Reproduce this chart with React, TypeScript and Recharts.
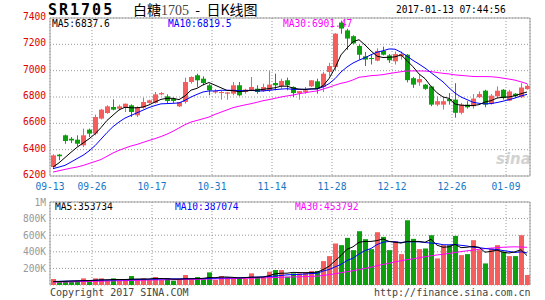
import React from 'react'
import {
  ComposedChart,
  Bar,
  Line,
  XAxis,
  YAxis,
  CartesianGrid,
  ReferenceLine,
  Cell,
} from 'recharts'

// 日期刻度
const tickDates = ['09-13', '09-26', '10-17', '10-31', '11-14', '11-28', '12-12', '12-26', '01-09']
const tickIndex = [0, 7, 17, 27, 37, 47, 57, 67, 76]
const priceTicks = [6200, 6400, 6600, 6800, 7000, 7200, 7400]
const volTicks = [200, 400, 600, 800, 1000]

// K线 (开/收/高/低)
const opens = [
  6268, 6362, 6509, 6483, 6476, 6433, 6552, 6522, 6636, 6678,
  6724, 6711, 6719, 6737, 6661, 6719, 6755, 6755, 6820, 6805,
  6787, 6729, 6762, 6914, 6965, 6939, 6889, 6835, 6830, 6825,
  6825, 6889, 6838, 6851, 6863, 6845, 6851, 6906, 6884, 6927,
  6876, 6830, 6838, 6881, 6919, 6876, 6990, 7027, 7365, 7306,
  7262, 7188, 7109, 7096, 7076, 7150, 7116, 7071, 7109, 7121,
  6943, 6911, 6894, 6880, 6742, 6742, 6785, 6780, 6680, 6742,
  6730, 6798, 6848, 6748, 6805, 6855, 6772, 6825, 6798, 6860,
]
const closes = [
  6357, 6350, 6466, 6470, 6445, 6509, 6522, 6648, 6704, 6729,
  6704, 6729, 6749, 6686, 6724, 6762, 6775, 6820, 6830, 6770,
  6770, 6762, 6914, 6952, 6927, 6906, 6851, 6845, 6838, 6835,
  6889, 6813, 6856, 6876, 6838, 6876, 6894, 6889, 6922, 6889,
  6830, 6845, 6851, 6927, 6863, 6977, 7035, 7281, 7320, 7244,
  7207, 7121, 7084, 7089, 7150, 7121, 7079, 7126, 7126, 6928,
  6894, 6936, 6862, 6742, 6768, 6768, 6768, 6680, 6742, 6722,
  6788, 6822, 6742, 6810, 6848, 6792, 6842, 6805, 6872, 6885,
]
const highs = [
  6365, 6368, 6515, 6496, 6509, 6560, 6560, 6666, 6710, 6737,
  6782, 6742, 6750, 6744, 6729, 6795, 6780, 6838, 6838, 6820,
  6795, 6762, 6947, 6957, 6977, 6957, 6901, 6860, 6845, 6838,
  6914, 6914, 6863, 6952, 6889, 6901, 6997, 6977, 6939, 6947,
  6881, 6845, 6876, 6927, 6939, 6990, 7060, 7285, 7380, 7318,
  7269, 7200, 7141, 7126, 7170, 7183, 7126, 7146, 7146, 7126,
  6953, 6968, 6899, 6885, 6805, 6798, 6830, 6905, 6755, 6768,
  6822, 6842, 6855, 6822, 6880, 6860, 6855, 6830, 6905, 6898,
]
const lows = [
  6255, 6320, 6445, 6450, 6425, 6420, 6496, 6509, 6630, 6673,
  6699, 6699, 6686, 6648, 6648, 6711, 6750, 6750, 6813, 6754,
  6755, 6724, 6750, 6901, 6876, 6889, 6813, 6825, 6780, 6780,
  6813, 6805, 6825, 6845, 6825, 6838, 6838, 6851, 6863, 6851,
  6800, 6780, 6825, 6876, 6825, 6838, 6960, 7000, 7280, 7158,
  7200, 7084, 7035, 7047, 7071, 7116, 7059, 7047, 7084, 6911,
  6869, 6885, 6854, 6730, 6730, 6705, 6742, 6643, 6668, 6712,
  6712, 6792, 6722, 6742, 6792, 6780, 6768, 6792, 6792, 6855,
]

// 均线
const ma5 = [
  6268, 6300, 6340, 6380, 6418, 6450, 6482, 6520, 6568, 6622,
  6662, 6702, 6722, 6718, 6718, 6724, 6740, 6762, 6782, 6790,
  6790, 6780, 6808, 6852, 6866, 6892, 6910, 6890, 6870, 6850,
  6848, 6840, 6845, 6850, 6852, 6858, 6864, 6870, 6882, 6882,
  6868, 6860, 6858, 6862, 6862, 6885, 6940, 7020, 7120, 7172,
  7220, 7235, 7195, 7150, 7110, 7100, 7102, 7105, 7120, 7076,
  7030, 6975, 6940, 6880, 6832, 6800, 6790, 6746, 6738, 6735,
  6735, 6742, 6762, 6772, 6792, 6798, 6800, 6810, 6825, 6838,
]
const ma10 = [
  6256, 6268, 6281, 6306, 6332, 6357, 6390, 6430, 6480, 6530,
  6575, 6610, 6640, 6660, 6680, 6700, 6720, 6735, 6748, 6750,
  6752, 6755, 6775, 6800, 6820, 6838, 6846, 6846, 6851, 6851,
  6851, 6848, 6848, 6851, 6846, 6846, 6851, 6856, 6860, 6863,
  6858, 6858, 6858, 6860, 6862, 6876, 6901, 6939, 6990, 7028,
  7058, 7080, 7098, 7121, 7140, 7151, 7165, 7163, 7140, 7110,
  7078, 7050, 7020, 6985, 6950, 6915, 6870, 6830, 6800, 6780,
  6760, 6752, 6748, 6750, 6758, 6768, 6780, 6792, 6808, 6820,
]
const ma30 = [
  6230, 6240, 6250, 6260, 6268, 6280, 6295, 6310, 6325, 6350,
  6375, 6395, 6412, 6428, 6440, 6455, 6470, 6484, 6500, 6518,
  6540, 6565, 6590, 6610, 6622, 6635, 6648, 6668, 6685, 6702,
  6719, 6730, 6740, 6749, 6760, 6772, 6780, 6790, 6800, 6808,
  6815, 6825, 6832, 6840, 6846, 6860, 6874, 6890, 6904, 6914,
  6930, 6950, 6955, 6962, 6965, 6970, 6978, 6985, 6992, 6997,
  6998, 6998, 6997, 6993, 6986, 6980, 6975, 6968, 6964, 6960,
  6956, 6955, 6955, 6954, 6950, 6943, 6936, 6928, 6915, 6901,
]

// 成交量 (K)
const volumes = [
  72, 40, 48, 40, 48, 80, 48, 80, 80, 52,
  80, 52, 60, 108, 72, 80, 60, 96, 60, 80,
  52, 60, 120, 60, 96, 68, 152, 60, 108, 96,
  80, 80, 72, 140, 96, 96, 160, 180, 180, 100,
  140, 140, 152, 168, 168, 288, 348, 500, 480, 568,
  420, 648, 552, 432, 636, 580, 420, 528, 372, 780,
  556, 432, 440, 600, 320, 480, 480, 592, 360, 372,
  540, 420, 260, 440, 480, 400, 348, 348, 600, 120,
]
const volMa5 = [
  40, 42, 45, 48, 50, 52, 53, 58, 62, 62,
  66, 66, 66, 70, 72, 72, 72, 80, 78, 76,
  70, 70, 75, 75, 78, 80, 90, 88, 96, 96,
  92, 85, 88, 95, 94, 96, 112, 134, 142, 142,
  152, 150, 148, 150, 154, 185, 225, 290, 355, 430,
  460, 515, 525, 525, 535, 555, 525, 515, 505, 525,
  525, 525, 515, 550, 480, 455, 460, 490, 450, 455,
  465, 455, 395, 405, 420, 395, 385, 400, 425, 354,
]
const volMa10 = [
  42, 44, 46, 48, 50, 52, 54, 56, 58, 60,
  60, 62, 63, 64, 66, 68, 70, 70, 72, 74,
  74, 74, 75, 76, 76, 76, 80, 82, 84, 85,
  86, 88, 90, 92, 95, 98, 102, 108, 115, 122,
  126, 128, 132, 138, 140, 168, 186, 218, 248, 295,
  323, 374, 414, 440, 487, 516, 524, 520, 512, 520,
  520, 520, 512, 505, 500, 485, 484, 488, 478, 470,
  455, 450, 440, 432, 428, 415, 405, 392, 400, 387,
]
const volMa30 = [
  35, 36, 37, 38, 40, 42, 43, 45, 46, 48,
  50, 52, 53, 55, 56, 58, 60, 61, 62, 63,
  64, 65, 66, 67, 68, 70, 72, 73, 75, 76,
  77, 79, 80, 82, 84, 86, 88, 90, 93, 95,
  97, 99, 101, 104, 106, 115, 125, 135, 148, 160,
  172, 185, 200, 215, 232, 248, 262, 278, 292, 305,
  315, 328, 340, 352, 362, 370, 380, 392, 402, 412,
  420, 430, 438, 445, 450, 455, 458, 460, 458, 454,
]

const RED = '#F65E5E'
const GREEN = '#0CA00C'
const MONO = '"DejaVu Sans Mono", "Liberation Mono", monospace'
const CJK = '"Noto Sans CJK SC", sans-serif'
const GRID = '#999'

const data = opens.map((o, i) => ({
  x: i + 0.5,
  open: o,
  close: closes[i],
  high: highs[i],
  low: lows[i],
  range: [lows[i], highs[i]],
  ma5: ma5[i],
  ma10: ma10[i],
  ma30: ma30[i],
  vol: volumes[i],
  vma5: volMa5[i],
  vma10: volMa10[i],
  vma30: volMa30[i],
}))

function Candle(props: any) {
  const { x, y, height, payload } = props
  const top = Math.min(y, y + height)
  const h = Math.abs(height)
  const { open, close, high, low } = payload
  const k = high > low ? h / (high - low) : 0
  const bodyTop = top + (high - Math.max(open, close)) * k
  const bodyH = Math.max(1, Math.abs(open - close) * k)
  const left = Math.floor(x)
  const cx = left + 2.5
  const color = close >= open ? RED : GREEN
  return (
    <g>
      <line x1={cx} x2={cx} y1={top} y2={top + h} stroke={color} strokeWidth={1} />
      <rect x={left} y={bodyTop} width={5} height={bodyH} fill={color} />
    </g>
  )
}

function VolBar(props: any) {
  const { x, y, height, fill } = props
  const top = Math.min(y, y + height)
  return <rect x={Math.floor(x)} y={top} width={5} height={Math.abs(height)} fill={fill} />
}

const PriceTick = ({ x, y, payload }: any) => (
  <text x={x} y={y} dy={2} textAnchor="end" fill="#E00000" fontSize={9.6} fontFamily={MONO}>
    {payload.value}
  </text>
)

const VolTick = ({ x, y, payload }: any) => (
  <text x={x} y={y} dy={3.5} textAnchor="end" fill="#999" fontSize={9.6} fontFamily={MONO}>
    {payload.value >= 1000 ? '1M' : `${payload.value}K`}
  </text>
)

const DateTick = ({ x, y, payload }: any) => (
  <text x={x} y={y} dy={14} textAnchor="middle" fill="#1677C8" fontSize={9.6} fontFamily={MONO}>
    {tickDates[tickIndex.indexOf(payload.value)]}
  </text>
)

const abs = (left: number, top: number, extra: React.CSSProperties = {}): React.CSSProperties => ({
  position: 'absolute',
  left,
  top,
  whiteSpace: 'pre',
  lineHeight: 1,
  ...extra,
})

export default function App() {
  const small = { fontFamily: MONO, fontSize: 9.6 }
  return (
    <div style={{ position: 'absolute', left: 0, top: 0, width: 545, height: 300, background: '#fff', overflow: 'hidden' }}>
      {/* 标题 */}
      <div style={abs(48, 3, { fontFamily: MONO, fontSize: 15, fontWeight: 'bold', letterSpacing: 2 })}>SR1705</div>
      <div style={abs(133, 2, { fontFamily: CJK, fontSize: 14 })}>
        白糖<span style={{ fontFamily: '"Liberation Serif", serif', color: '#444' }}>1705</span>{'  -  '}日K线图
      </div>
      <div style={abs(396, 5, small)}>2017-01-13 07:44:56</div>

      {/* 均线图例 */}
      <div style={abs(52, 19, { ...small, color: '#000' })}>MA5:6837.6</div>
      <div style={abs(168, 19, { ...small, color: '#0000FF' })}>MA10:6819.5</div>
      <div style={abs(283, 19, { ...small, color: '#FF00FF' })}>MA30:6901.47</div>

      <div style={abs(55, 202, { ...small, color: '#000' })}>MA5:353734</div>
      <div style={abs(175, 202, { ...small, color: '#0000FF' })}>MA10:387074</div>
      <div style={abs(295, 202, { ...small, color: '#FF00FF' })}>MA30:453792</div>

      <div style={abs(496, 152, { fontFamily: '"DejaVu Sans", sans-serif', fontSize: 15, fontWeight: 'bold', fontStyle: 'italic', color: '#d2d2d2' })}>sina</div>

      <div style={abs(50, 288, { fontFamily: MONO, fontSize: 10, color: '#444' })}>Copyright 2017 SINA.COM</div>
      <div style={abs(374, 288, { fontFamily: MONO, fontSize: 10, color: '#444' })}>http://finance.sina.com.cn</div>

      {/* K线 */}
      <div style={{ position: 'absolute', left: 0, top: 0 }}>
        <ComposedChart width={545} height={195} data={data} margin={{ top: 18, right: 15, bottom: 0, left: 0 }}>
          <CartesianGrid stroke={GRID} strokeDasharray="1 2" />
          <XAxis
            type="number"
            dataKey="x"
            domain={[0, 80]}
            ticks={tickIndex}
            interval={0}
            height={19}
            tickSize={0}
            tickMargin={0}
            axisLine={false}
            tickLine={false}
            tick={<DateTick />}
          />
          <YAxis
            domain={[6200, 7400]}
            ticks={priceTicks}
            interval={0}
            width={50}
            tickSize={0}
            tickMargin={4}
            axisLine={false}
            tickLine={false}
            tick={<PriceTick />}
            allowDataOverflow
          />
          <ReferenceLine y={7400} stroke="#A0A0A0" />
          <ReferenceLine y={6200} stroke="#A0A0A0" />
          <ReferenceLine x={0} stroke="#A0A0A0" />
          <ReferenceLine x={80} stroke="#A0A0A0" />
          <Bar dataKey="range" barSize={5} shape={<Candle />} isAnimationActive={false} />
          <Line type="linear" dataKey="ma30" stroke="#FF00FF" strokeWidth={1} dot={false} isAnimationActive={false} />
          <Line type="linear" dataKey="ma10" stroke="#0000FF" strokeWidth={1} dot={false} isAnimationActive={false} />
          <Line type="linear" dataKey="ma5" stroke="#000000" strokeWidth={1} dot={false} isAnimationActive={false} />
        </ComposedChart>
      </div>

      {/* 成交量 */}
      <div style={{ position: 'absolute', left: 0, top: 190 }}>
        <ComposedChart width={545} height={110} data={data} margin={{ top: 12, right: 15, bottom: 15, left: 0 }}>
          <CartesianGrid stroke={GRID} strokeDasharray="1 2" />
          <XAxis type="number" dataKey="x" domain={[0, 80]} ticks={tickIndex} interval={0} hide />
          <YAxis
            domain={[0, 1000]}
            ticks={volTicks}
            interval={0}
            width={50}
            tickSize={0}
            tickMargin={4}
            axisLine={false}
            tickLine={false}
            tick={<VolTick />}
          />
          <ReferenceLine y={1000} stroke="#A0A0A0" />
          <ReferenceLine x={0} stroke="#A0A0A0" />
          <ReferenceLine x={80} stroke="#A0A0A0" />
          <Bar dataKey="vol" barSize={5} shape={<VolBar />} isAnimationActive={false}>
            {data.map((d, i) => (
              <Cell key={`v-${i}`} fill={d.close >= d.open ? RED : GREEN} />
            ))}
          </Bar>
          <Line type="linear" dataKey="vma30" stroke="#FF00FF" strokeWidth={1} dot={false} isAnimationActive={false} />
          <Line type="linear" dataKey="vma10" stroke="#0000FF" strokeWidth={1} dot={false} isAnimationActive={false} />
          <Line type="linear" dataKey="vma5" stroke="#000000" strokeWidth={1} dot={false} isAnimationActive={false} />
        </ComposedChart>
      </div>
    </div>
  )
}
